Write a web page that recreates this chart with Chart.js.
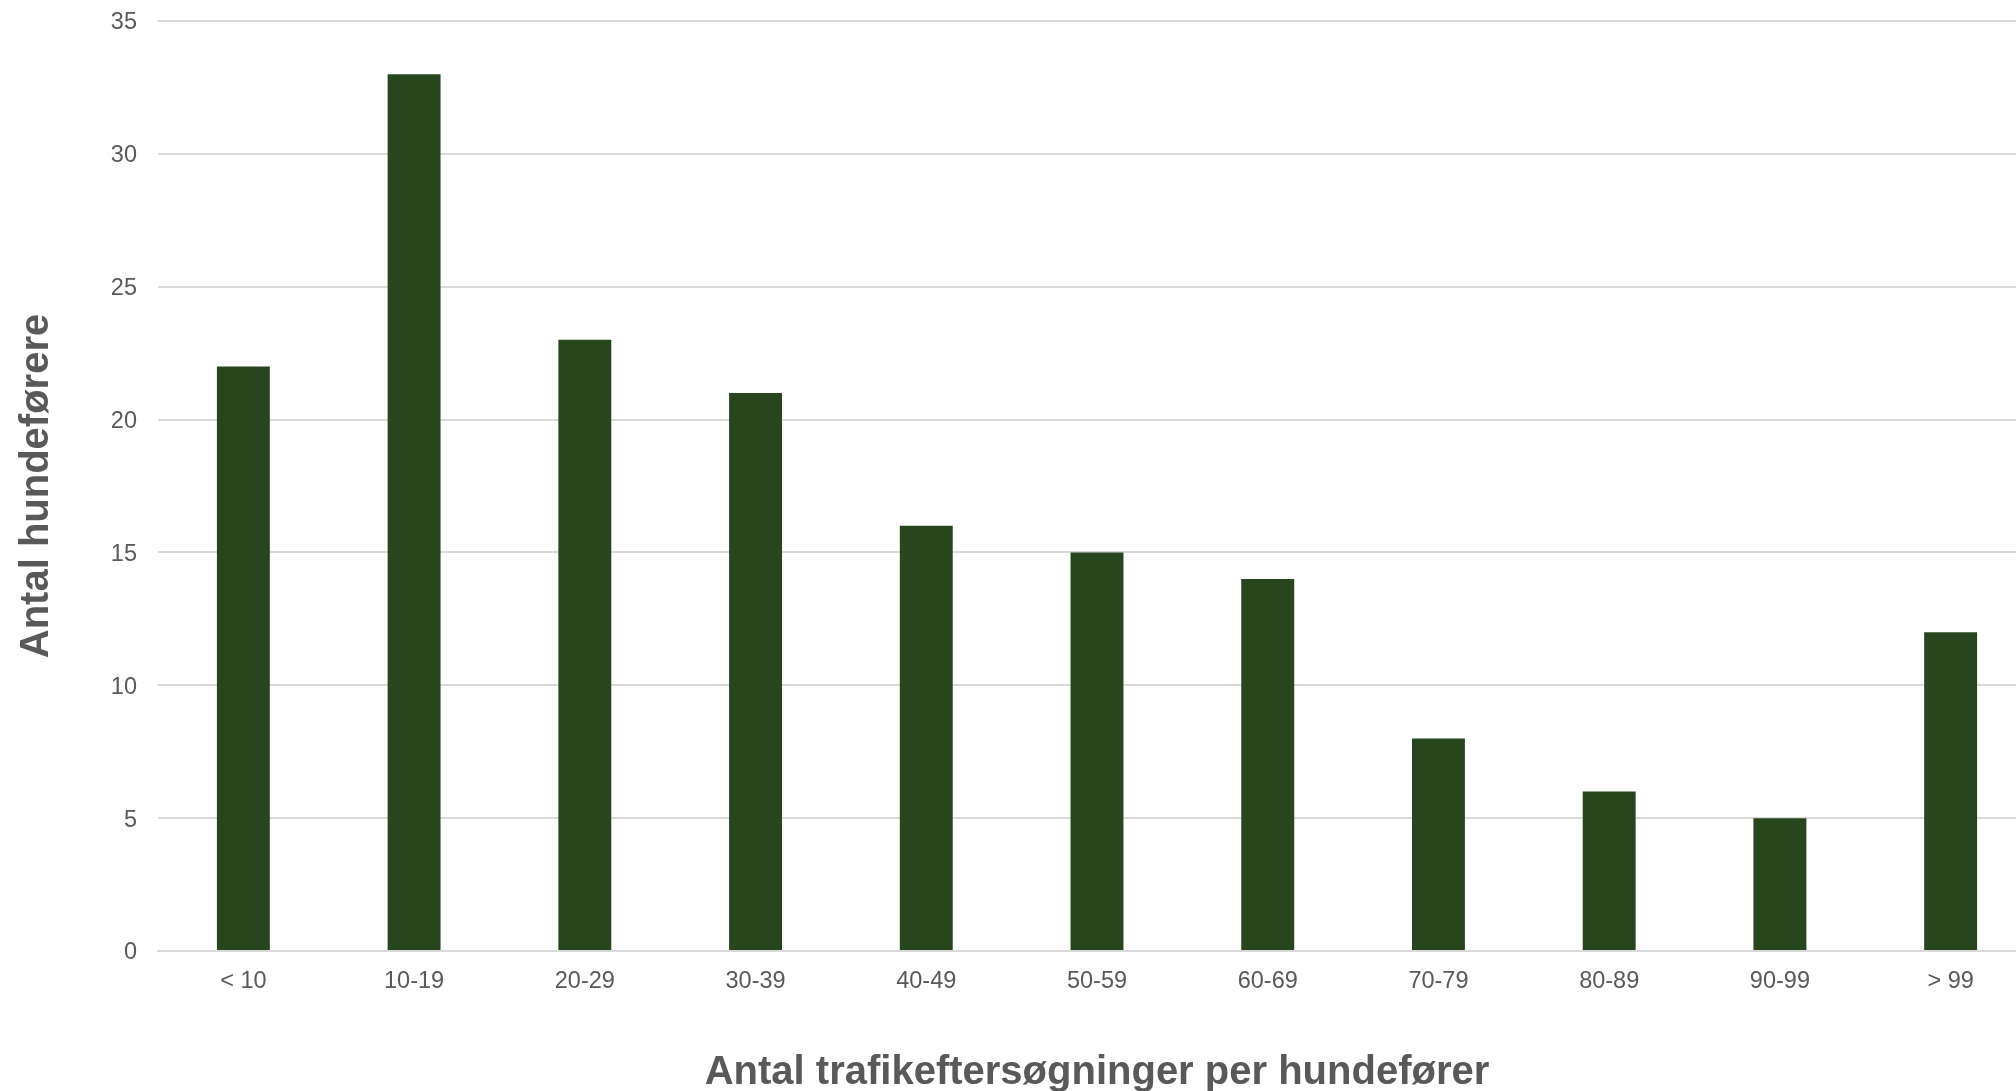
<!DOCTYPE html>
<html>
<head>
<meta charset="utf-8">
<script src="https://cdn.jsdelivr.net/npm/chart.js@4"></script>
<style>
  html, body { margin: 0; padding: 0; background: #fff; overflow: hidden; }
  #wrap { width: 2016px; height: 1091px; overflow: hidden; }
</style>
</head>
<body>
<div id="wrap">
  <canvas id="myChart" width="2036" height="1097"></canvas>
</div>
<script>
// Data
const kategorier = ["< 10", "10-19", "20-29", "30-39", "40-49", "50-59", "60-69", "70-79", "80-89", "90-99", "> 99"];
const antalHundeforere = [22, 33, 23, 21, 16, 15, 14, 8, 6, 5, 12];
const yTicks = [0, 5, 10, 15, 20, 25, 30, 35];

const tekstFarve = "#595959";
const gitterFarve = "#d9d9d9";

const data = {
  labels: kategorier,
  datasets: [
    {
      label: "Antal hundeførere",
      data: antalHundeforere,
      backgroundColor: "#27461e",
      borderWidth: 0,
      barPercentage: 0.31,
      categoryPercentage: 1,
    },
  ],
};

const config = {
  type: "bar",
  data: data,
  options: {
    responsive: false,
    animation: false,
    layout: { padding: { top: 21, left: 0, right: 0, bottom: 0 } },
    plugins: {
      legend: { display: false },
      tooltip: { enabled: false },
    },
    scales: {
      x: {
        grid: { display: false, drawTicks: false },
        border: { display: true, color: gitterFarve, width: 2 },
        ticks: {
          color: tekstFarve,
          font: { family: "'Liberation Sans', Arial, sans-serif", size: 23.5 },
          padding: 16,
          maxRotation: 0,
          autoSkip: false,
        },
        title: {
          display: true,
          text: "Antal trafikeftersøgninger per hundefører",
          color: tekstFarve,
          font: { family: "'Liberation Sans', Arial, sans-serif", size: 40, weight: "bold" },
          padding: 0,
        },
        afterFit: (scale) => {
          scale.height = 146;
          scale.paddingLeft = 0;
          scale.paddingRight = 0;
        },
      },
      y: {
        min: 0,
        max: 35,
        afterBuildTicks: (scale) => { scale.ticks = yTicks.map((v) => ({ value: v })); },
        grid: { color: gitterFarve, lineWidth: 2, drawTicks: false },
        border: { display: false },
        ticks: {
          color: tekstFarve,
          font: { family: "'Liberation Sans', Arial, sans-serif", size: 23.5 },
          padding: 21,
          labelOffset: 2,
        },
        title: {
          display: true,
          text: "Antal hundeførere",
          color: tekstFarve,
          font: { family: "'Liberation Sans', Arial, sans-serif", size: 40, weight: "bold" },
          padding: { top: 13, bottom: 0 },
        },
        afterFit: (scale) => {
          scale.width = 158;
          scale.paddingTop = 0;
          scale.paddingBottom = 0;
        },
      },
    },
  },
};

new Chart(document.getElementById("myChart"), config);
</script>
</body>
</html>
